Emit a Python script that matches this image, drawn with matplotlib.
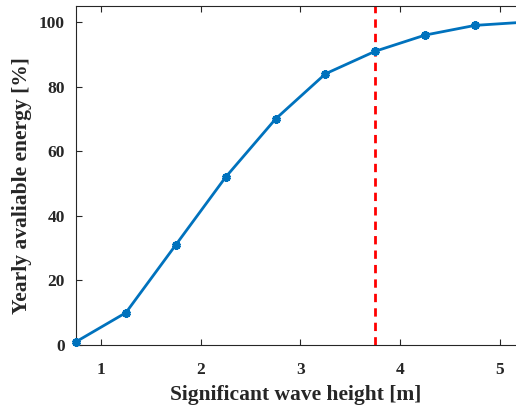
import matplotlib.pyplot as plt

plt.rcParams['font.family'] = ['Liberation Serif', 'DejaVu Serif']
plt.rcParams['font.weight'] = 'bold'

wave_height = [0.75, 1.25, 1.75, 2.25, 2.75, 3.25, 3.75, 4.25, 4.75, 5.25]
energy = [1, 10, 31, 52, 70, 84, 91, 96, 99, 100]
cutoff = 3.75

W, H = 516, 407
fig = plt.figure(figsize=(W/100, H/100), dpi=100)
ax = fig.add_axes([76/W, (H-345)/H, (W-76)/W, (345-6)/H])

ax.plot(wave_height, energy, color='#0072BD', lw=2, marker=(6, 2, 0),
        ms=6, mew=2.4, clip_on=False, zorder=3)
ax.axvline(cutoff, color='#FF0000', lw=2, ls=(0, (3, 2.2)))

ax.set_xlim(0.75, 5.16)
ax.set_ylim(0, 105)
ax.set_xticks([1, 2, 3, 4, 5])
ax.set_yticks([0, 20, 40, 60, 80, 100])

ax.spines['right'].set_visible(False)
for s in ['left', 'bottom', 'top']:
    ax.spines[s].set_color('#262626')
    ax.spines[s].set_linewidth(0.8)
ax.tick_params(direction='in', top=True, length=4, width=0.8, colors='#262626',
               labelsize=12.5)
ax.tick_params(axis='x', pad=12)
ax.tick_params(axis='y', pad=8)
for lab in ax.get_xticklabels() + ax.get_yticklabels():
    lab.set_fontweight('bold')

ax.set_xlabel('Significant wave height [m]', fontsize=15.5, fontweight='bold',
              color='#262626', labelpad=5)
ax.set_ylabel('Yearly avaliable energy [%]', fontsize=15.5, fontweight='bold',
              color='#262626')
ax.yaxis.set_label_coords(-0.1, 0.47)

fig.savefig('out.png', dpi=100)
